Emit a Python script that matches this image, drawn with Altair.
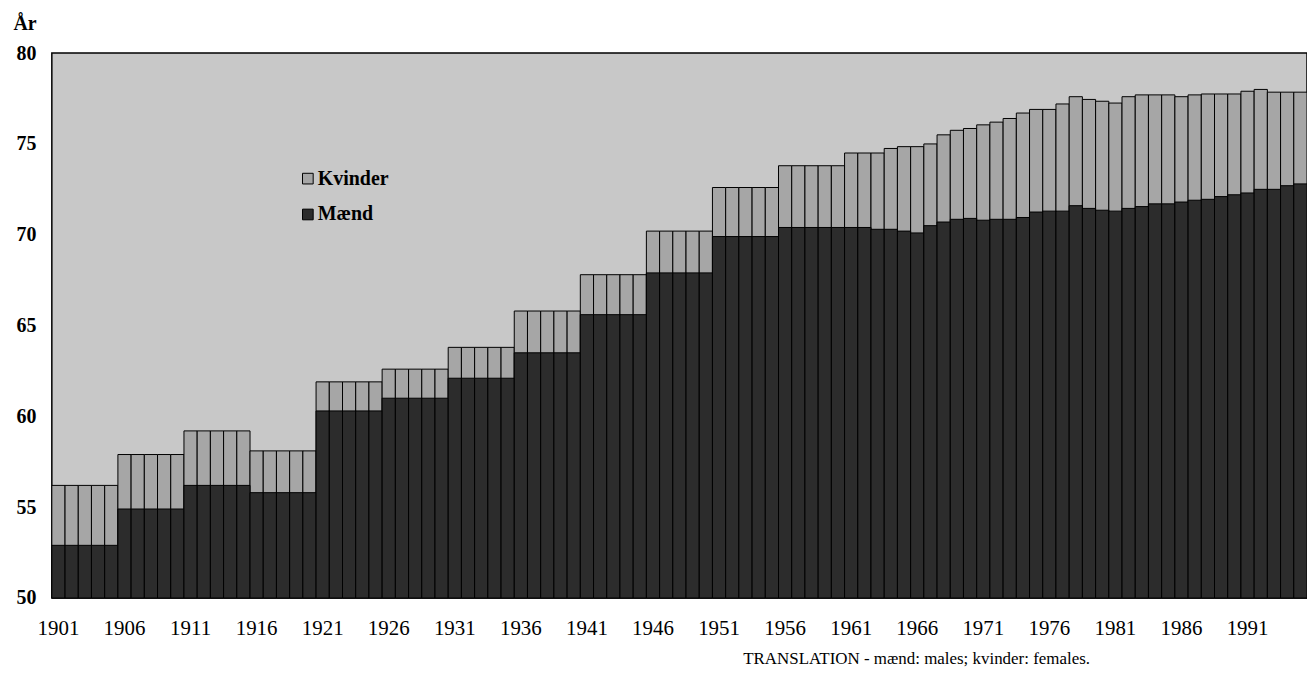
import altair as alt
import pandas as pd

years = list(range(1901, 1996))

kvinder = [
    56.2, 56.2, 56.2, 56.2, 56.2,
    57.9, 57.9, 57.9, 57.9, 57.9,
    59.2, 59.2, 59.2, 59.2, 59.2,
    58.1, 58.1, 58.1, 58.1, 58.1,
    61.9, 61.9, 61.9, 61.9, 61.9,
    62.6, 62.6, 62.6, 62.6, 62.6,
    63.8, 63.8, 63.8, 63.8, 63.8,
    65.8, 65.8, 65.8, 65.8, 65.8,
    67.8, 67.8, 67.8, 67.8, 67.8,
    70.2, 70.2, 70.2, 70.2, 70.2,
    72.6, 72.6, 72.6, 72.6, 72.6,
    73.8, 73.8, 73.8, 73.8, 73.8,
    74.5, 74.5, 74.5, 74.75, 74.85, 74.85, 75.0, 75.5, 75.75, 75.85,
    76.05, 76.2, 76.4, 76.7, 76.9, 76.9, 77.2, 77.6, 77.45, 77.35,
    77.25, 77.6, 77.7, 77.7, 77.7, 77.6, 77.7, 77.75, 77.75, 77.75,
    77.9, 78.0, 77.85, 77.85, 77.85,
]

maend = [
    52.9, 52.9, 52.9, 52.9, 52.9,
    54.9, 54.9, 54.9, 54.9, 54.9,
    56.2, 56.2, 56.2, 56.2, 56.2,
    55.8, 55.8, 55.8, 55.8, 55.8,
    60.3, 60.3, 60.3, 60.3, 60.3,
    61.0, 61.0, 61.0, 61.0, 61.0,
    62.1, 62.1, 62.1, 62.1, 62.1,
    63.5, 63.5, 63.5, 63.5, 63.5,
    65.6, 65.6, 65.6, 65.6, 65.6,
    67.9, 67.9, 67.9, 67.9, 67.9,
    69.9, 69.9, 69.9, 69.9, 69.9,
    70.4, 70.4, 70.4, 70.4, 70.4,
    70.4, 70.4, 70.3, 70.3, 70.2, 70.1, 70.5, 70.7, 70.85, 70.9,
    70.8, 70.85, 70.85, 70.95, 71.25, 71.3, 71.3, 71.6, 71.45, 71.35,
    71.3, 71.45, 71.55, 71.7, 71.7, 71.8, 71.9, 71.95, 72.1, 72.2,
    72.3, 72.5, 72.5, 72.7, 72.8,
]

tick_years = [1901, 1906, 1911, 1916, 1921, 1926, 1931, 1936, 1941, 1946,
              1951, 1956, 1961, 1966, 1971, 1976, 1981, 1986, 1991]
y_ticks = [50, 55, 60, 65, 70, 75, 80]
series = ["Kvinder", "Mænd"]
note = "TRANSLATION - mænd: males; kvinder: females."

rows = []
for yr, k, m in zip(years, kvinder, maend):
    rows.append({"year": yr, "sex": "Kvinder", "value": k})
    rows.append({"year": yr, "sex": "Mænd", "value": m})
df = pd.DataFrame(rows)

FONT = "Liberation Serif"

x_enc = alt.X(
    "year:O",
    scale=alt.Scale(paddingInner=0, paddingOuter=0),
    axis=alt.Axis(values=tick_years, labelAngle=0, ticks=False, domain=False,
                  labelPadding=20, labelFontSize=21, labelFont=FONT,
                  labelColor="black", title=None, grid=False),
)
y_enc = alt.Y(
    "value:Q",
    scale=alt.Scale(domain=[50, 80], zero=False, nice=False),
    axis=alt.Axis(values=y_ticks, ticks=False, domain=False, grid=False,
                  labelPadding=16, labelFontSize=20, labelFont=FONT,
                  labelFontWeight="bold", labelColor="black",
                  title="År", titleAngle=0, titleAlign="left",
                  titleBaseline="alphabetic", titleX=-39, titleY=-24,
                  titleFont=FONT, titleFontSize=20, titleFontWeight="bold",
                  titleColor="black"),
)
color_enc = alt.Color(
    "sex:N",
    scale=alt.Scale(domain=series, range=["#a6a6a6", "#2c2c2c"]),
    legend=alt.Legend(title=None, orient="none", legendX=247, legendY=116,
                      symbolType="square", symbolSize=115,
                      symbolStrokeColor="black", symbolStrokeWidth=1,
                      labelFont=FONT, labelFontSize=20, labelFontWeight="bold",
                      labelColor="black", rowPadding=16, padding=0,
                      labelOffset=0),
)

base = alt.Chart(df)
fem = base.transform_filter(alt.datum.sex == "Kvinder").mark_bar(
    stroke="black", strokeWidth=1
).encode(x=x_enc, y=y_enc, y2=alt.datum(50), color=color_enc)
male = base.transform_filter(alt.datum.sex == "Mænd").mark_bar(
    stroke="black", strokeWidth=1
).encode(x=x_enc, y=y_enc, y2=alt.datum(50), color=color_enc)

chart = alt.layer(fem, male).properties(
    width=1260,
    height=547,
    background="white",
    autosize=alt.AutoSizeParams(type="none"),
    padding={"left": 44, "top": 44, "right": 0, "bottom": 74},
    title=alt.TitleParams(text=note, orient="bottom", anchor="start",
                          dx=733, offset=12, font=FONT, fontSize=17,
                          fontWeight="normal", color="black"),
).configure_view(
    fill="#c8c8c8", stroke="black", strokeWidth=1.5
)

chart.save("out.html", embed_options={"renderer": "svg", "actions": False})
